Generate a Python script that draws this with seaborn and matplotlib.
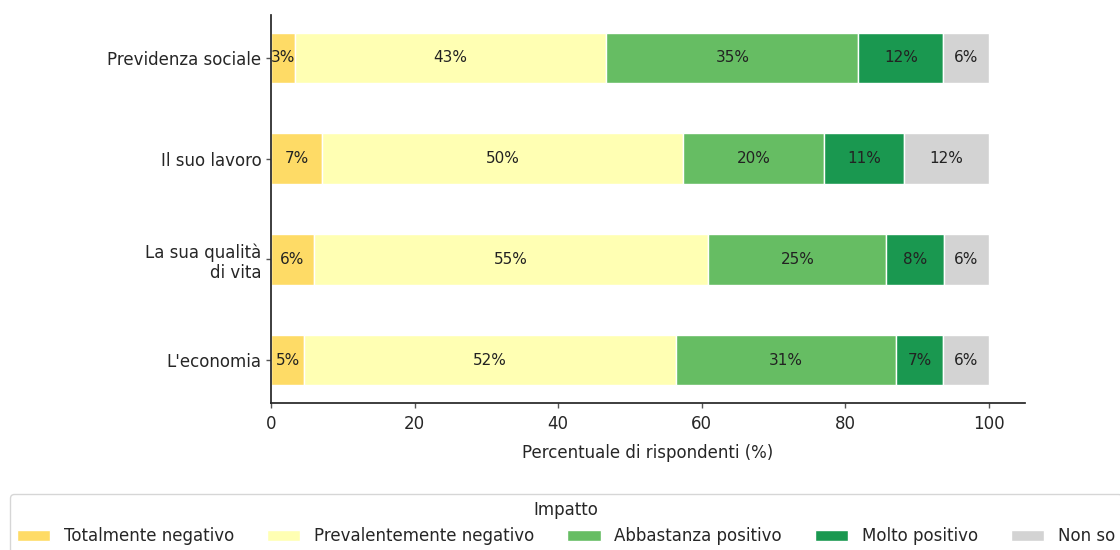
import matplotlib
matplotlib.use("Agg")
import matplotlib.pyplot as plt
import seaborn as sns
import numpy as np
import pandas as pd

categories = ["Previdenza sociale", "Il suo lavoro", "La sua qualità\ndi vita", "L'economia"]
series_names = ["Totalmente negativo", "Prevalentemente negativo", "Abbastanza positivo",
                "Molto positivo", "Non so"]
totalmente_negativo = [3.3, 7.1, 6.0, 4.6]
prevalentemente_negativo = [43.4, 50.3, 54.9, 51.8]
abbastanza_positivo = [35.1, 19.6, 24.8, 30.6]
molto_positivo = [11.8, 11.2, 8.0, 6.6]
non_so = [6.4, 11.8, 6.3, 6.4]
x_ticks = [0, 20, 40, 60, 80, 100]

colors = ["#fedb66", "#ffffb3", "#66bd63", "#1a9850", "#d3d3d3"]

sns.set_theme(style="ticks")
plt.rcParams["font.family"] = ["DejaVu Sans"]

df = pd.DataFrame({
    series_names[0]: totalmente_negativo,
    series_names[1]: prevalentemente_negativo,
    series_names[2]: abbastanza_positivo,
    series_names[3]: molto_positivo,
    series_names[4]: non_so,
}, index=categories)

fig = plt.figure(figsize=(11.2, 5.5), dpi=100)
ax = fig.add_axes([271/1120, 1-403/550, (1025-271)/1120, (403-15)/550])

ypos = np.arange(len(categories))
left = np.zeros(len(categories))
for name, col in zip(series_names, colors):
    vals = df[name].values
    bars = ax.barh(ypos, vals, left=left, height=0.5, color=col,
                   edgecolor="white", linewidth=1, label=name)
    labels = [f"{v:.0f}%" for v in vals]
    ax.bar_label(bars, labels=labels, label_type="center", fontsize=11, color="#222222")
    left = left + vals

ax.set_yticks(ypos)
ax.set_yticklabels(categories, fontsize=12)
ax.invert_yaxis()
ax.set_xlim(0, 105)
ax.set_xticks(x_ticks)
ax.tick_params(axis="both", length=3.5, width=1, pad=3.5, color="#555555")
ax.tick_params(axis="x", labelsize=12, pad=5)
ax.set_xlabel("Percentuale di rispondenti (%)", fontsize=12, labelpad=8)
ax.set_ylabel("")
sns.despine(ax=ax)

handles, labs = ax.get_legend_handles_labels()
leg = fig.legend(handles, labs, title="Impatto", loc="upper center",
                 bbox_to_anchor=(566/1120, 1-486/550), ncol=5, fontsize=12,
                 title_fontsize=12, frameon=True, columnspacing=2.0)
leg.get_frame().set_edgecolor("#cccccc")

fig.savefig("out.png", dpi=100)
